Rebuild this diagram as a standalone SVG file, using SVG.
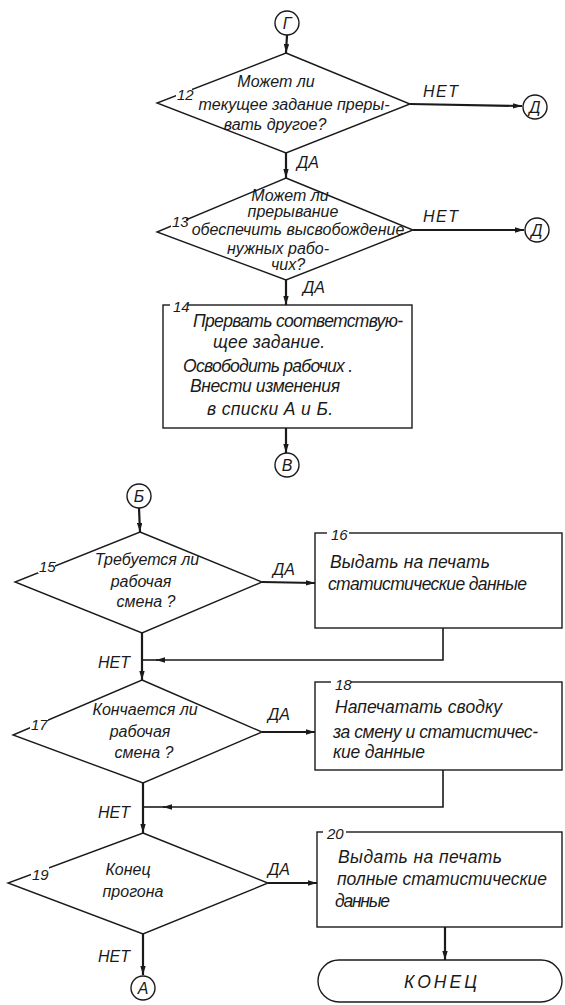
<svg xmlns="http://www.w3.org/2000/svg" width="565" height="1005" viewBox="0 0 565 1005">
<defs>
<style>
.s{fill:#fff;stroke:#1a1a1a;stroke-width:1.4}
.c{fill:none;stroke:#1a1a1a;stroke-width:1.6}
.m{stroke-width:2.2}
.t{font-family:"Liberation Sans",Arial,sans-serif;font-style:italic;fill:#1a1a1a;font-size:16px}
.b{font-size:17.5px}
.n{font-size:15px}
.ci{font-size:16px}
.mid{text-anchor:middle}
.bg{fill:#fff;stroke:none}
.sp{letter-spacing:1.5px}
</style>
<marker id="ah" viewBox="0 0 10 6" refX="10" refY="3" markerWidth="9" markerHeight="5.5" markerUnits="userSpaceOnUse" orient="auto"><path d="M0,0L10,3L0,6z" fill="#1a1a1a"/></marker>
</defs>
<rect width="565" height="1005" fill="#fff"/>
<g id="connectors">
<path class="c m" d="M287,35 L286,53" marker-end="url(#ah)"/>
<path class="c m" d="M410,104 L522,106" marker-end="url(#ah)"/>
<path class="c m" d="M286,153 L286,178" marker-end="url(#ah)"/>
<path class="c m" d="M413,230 L524,230" marker-end="url(#ah)"/>
<path class="c m" d="M286,280 L286,305" marker-end="url(#ah)"/>
<path class="c m" d="M286,428 L286,453" marker-end="url(#ah)"/>
<path class="c m" d="M139,508 L140,532" marker-end="url(#ah)"/>
<path class="c m" d="M262,582 L315,583" marker-end="url(#ah)"/>
<path class="c m" d="M142,633 L142,680" marker-end="url(#ah)"/>
<path class="c" d="M443,628 V660 H156" marker-end="url(#ah)"/>
<path class="c" d="M158,660 H142"/>
<path class="c m" d="M262,732 L315,732" marker-end="url(#ah)"/>
<path class="c m" d="M143,783 L143,833" marker-end="url(#ah)"/>
<path class="c" d="M443,770 V807 H163" marker-end="url(#ah)"/>
<path class="c" d="M165,807 H143"/>
<path class="c m" d="M268,883 L317,883" marker-end="url(#ah)"/>
<path class="c m" d="M143,934 L143,975" marker-end="url(#ah)"/>
<path class="c m" d="M445,927 L445,960" marker-end="url(#ah)"/>
<text class="t sp" x="423" y="97">НЕТ</text>
<text class="t" x="297" y="168">ДА</text>
<text class="t sp" x="423" y="222">НЕТ</text>
<text class="t" x="303" y="293">ДА</text>
<text class="t" x="273" y="575">ДА</text>
<text class="t" x="98" y="668">НЕТ</text>
<text class="t" x="268" y="720">ДА</text>
<text class="t" x="98" y="818">НЕТ</text>
<text class="t" x="268" y="875">ДА</text>
<text class="t" x="98" y="962">НЕТ</text>
</g>
<g id="conG">
<circle class="s" cx="287" cy="23" r="12"/>
<text class="t ci mid" x="287" y="29">Г</text>
</g>
<g id="n12">
<polygon class="s" points="286,53 410,104 286,153 157,103"/>
<rect class="bg" x="176" y="87" width="16" height="14"/>
<text class="t n" x="177" y="100">12</text>
<text class="t mid" x="276" y="87">Может ли</text>
<text class="t mid" x="294" y="110">текущее задание преры-</text>
<text class="t mid" x="275" y="130">вать другое?</text>
</g>
<g id="conD1">
<circle class="s" cx="535" cy="107" r="12"/>
<text class="t ci mid" x="535" y="113">Д</text>
</g>
<g id="n13">
<polygon class="s" points="286,178 413,230 286,280 157,232"/>
<rect class="bg" x="171" y="215" width="15" height="14"/>
<text class="t n" x="172" y="227">13</text>
<text class="t mid" x="290" y="201">Может ли</text>
<text class="t mid" x="293" y="217">прерывание</text>
<text class="t mid" x="298" y="235">обеспечить высвобождение</text>
<text class="t mid" x="278" y="254">нужных рабо-</text>
<text class="t mid" x="288" y="270">чих?</text>
</g>
<g id="conD2">
<circle class="s" cx="537" cy="230" r="12"/>
<text class="t ci mid" x="537" y="236">Д</text>
</g>
<g id="n14">
<rect class="s" x="163" y="305" width="249" height="123"/>
<rect class="bg" x="170" y="298" width="18" height="12"/>
<text class="t n" x="173" y="312">14</text>
<text class="t b" x="193" y="327" textLength="210" lengthAdjust="spacing">Прервать соответствую-</text>
<text class="t b" x="213" y="348" textLength="112" lengthAdjust="spacing">щее задание.</text>
<text class="t b" x="183" y="372" textLength="170" lengthAdjust="spacing">Освободить рабочих .</text>
<text class="t b" x="190" y="392" textLength="150" lengthAdjust="spacing">Внести изменения</text>
<text class="t b" x="207" y="415" textLength="126" lengthAdjust="spacing">в списки А и Б.</text>
</g>
<g id="conV">
<circle class="s" cx="287" cy="465" r="12"/>
<text class="t ci mid" x="287" y="471">В</text>
</g>
<g id="conB">
<circle class="s" cx="139" cy="496" r="12"/>
<text class="t ci mid" x="139" y="502">Б</text>
</g>
<g id="n15">
<polygon class="s" points="140,532 262,582 142,633 15,582"/>
<rect class="bg" x="38" y="558" width="17" height="15"/>
<text class="t n" x="39" y="572">15</text>
<text class="t mid" x="147" y="565">Требуется ли</text>
<text class="t mid" x="141" y="587">рабочая</text>
<text class="t mid" x="146" y="607">смена ?</text>
</g>
<g id="n16">
<rect class="s" x="315" y="533" width="247" height="95"/>
<rect class="bg" x="327" y="526" width="22" height="12"/>
<text class="t n" x="331" y="540">16</text>
<text class="t b" x="330" y="568" textLength="160" lengthAdjust="spacing">Выдать на печать</text>
<text class="t b" x="328" y="590" textLength="199" lengthAdjust="spacing">статистические данные</text>
</g>
<g id="n17">
<polygon class="s" points="142,680 262,732 143,783 13,735"/>
<rect class="bg" x="30" y="717" width="18" height="15"/>
<text class="t n" x="31" y="730">17</text>
<text class="t mid" x="145" y="715">Кончается ли</text>
<text class="t mid" x="140" y="737">рабочая</text>
<text class="t mid" x="144" y="758">смена ?</text>
</g>
<g id="n18">
<rect class="s" x="315" y="682" width="247" height="88"/>
<rect class="bg" x="331" y="675" width="20" height="12"/>
<text class="t n" x="335" y="690">18</text>
<text class="t b" x="335" y="713" textLength="167" lengthAdjust="spacing">Напечатать сводку</text>
<text class="t b" x="333" y="738" textLength="205" lengthAdjust="spacing">за смену и статистичес-</text>
<text class="t b" x="333" y="758" textLength="92" lengthAdjust="spacing">кие данные</text>
</g>
<g id="n19">
<polygon class="s" points="143,833 268,883 143,934 8,883"/>
<rect class="bg" x="31" y="866" width="18" height="15"/>
<text class="t n" x="32" y="880">19</text>
<text class="t mid" x="128" y="875">Конец</text>
<text class="t mid" x="133" y="897">прогона</text>
</g>
<g id="n20">
<rect class="s" x="317" y="832" width="245" height="95"/>
<rect class="bg" x="323" y="825" width="23" height="12"/>
<text class="t n" x="327" y="839">20</text>
<text class="t b" x="338" y="863" textLength="164" lengthAdjust="spacing">Выдать на печать</text>
<text class="t b" x="337" y="885" textLength="210" lengthAdjust="spacing">полные статистические</text>
<text class="t b" x="335" y="907" textLength="55" lengthAdjust="spacing">данные</text>
</g>
<g id="conA">
<circle class="s" cx="143" cy="988" r="12"/>
<text class="t ci mid" x="143" y="994">А</text>
</g>
<g id="end">
<rect class="s" x="318" y="960" width="244" height="42" rx="21" ry="21"/>
<text class="t b mid" x="442" y="988" letter-spacing="3">КОНЕЦ</text>
</g>
</svg>
